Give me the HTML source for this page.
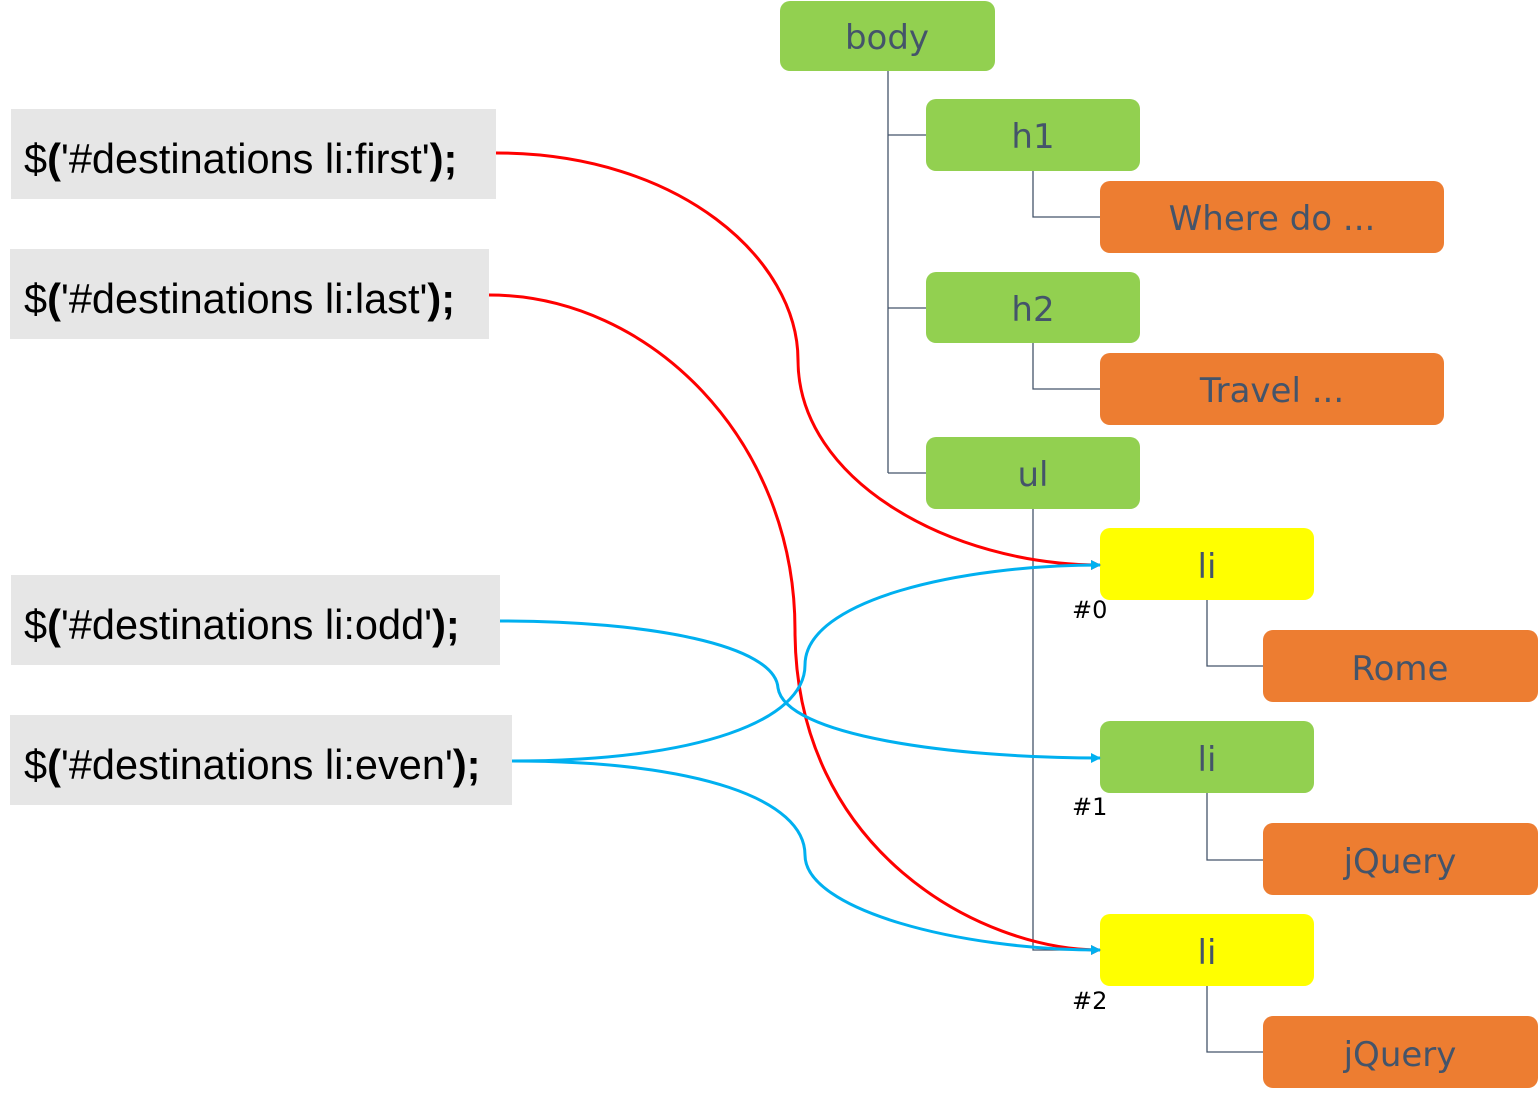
<!DOCTYPE html>
<html><head><meta charset="utf-8"><style>
html,body{margin:0;padding:0;background:#fff;width:1540px;height:1099px;overflow:hidden}
</style></head><body>
<svg width="1540" height="1099" viewBox="0 0 1540 1099" xmlns="http://www.w3.org/2000/svg">
<defs>
<marker id="ar" markerWidth="10" markerHeight="10" refX="9" refY="5" orient="auto" markerUnits="userSpaceOnUse"><path d="M0,0 L10,5 L0,10 z" fill="#ff0000"/></marker>
<marker id="ab" markerWidth="10" markerHeight="10" refX="9" refY="5" orient="auto" markerUnits="userSpaceOnUse"><path d="M0,0 L10,5 L0,10 z" fill="#00b0f0"/></marker>
</defs>
<g stroke="#44546a" stroke-width="1.3" fill="none">
<path d="M888,71 V473 M888,135 H926 M888,308 H926 M888,473 H926"/>
<path d="M1033,171 V217 H1100 M1033,343 V389 H1100 M1033,509 V950 H1100"/>
<path d="M1207,600 V666 H1263 M1207,793 V860 H1263 M1207,986 V1052 H1263"/>
</g>
<g font-family="'DejaVu Sans', sans-serif" font-size="34" fill="#44546a" text-anchor="middle">
<rect x="780" y="1" width="215" height="70" rx="10" fill="#92d050"/><text x="887" y="49">body</text>
<rect x="926" y="99" width="214" height="72" rx="10" fill="#92d050"/><text x="1033" y="148">h1</text>
<rect x="1100" y="181" width="344" height="72" rx="10" fill="#ed7d31"/><text x="1272" y="230">Where do ...</text>
<rect x="926" y="272" width="214" height="71" rx="10" fill="#92d050"/><text x="1033" y="321">h2</text>
<rect x="1100" y="353" width="344" height="72" rx="10" fill="#ed7d31"/><text x="1272" y="402">Travel ...</text>
<rect x="926" y="437" width="214" height="72" rx="10" fill="#92d050"/><text x="1033" y="486">ul</text>
<rect x="1100" y="528" width="214" height="72" rx="10" fill="#ffff00"/><text x="1207" y="578">li</text>
<rect x="1263" y="630" width="275" height="72" rx="10" fill="#ed7d31"/><text x="1400" y="680">Rome</text>
<rect x="1100" y="721" width="214" height="72" rx="10" fill="#92d050"/><text x="1207" y="771">li</text>
<rect x="1263" y="823" width="275" height="72" rx="10" fill="#ed7d31"/><text x="1400" y="873">jQuery</text>
<rect x="1100" y="914" width="214" height="72" rx="10" fill="#ffff00"/><text x="1207" y="964">li</text>
<rect x="1263" y="1016" width="275" height="72" rx="10" fill="#ed7d31"/><text x="1400" y="1066">jQuery</text>
</g>
<g font-family="'DejaVu Sans', sans-serif" font-size="24" fill="#000">
<text x="1072" y="618">#0</text><text x="1072" y="815">#1</text><text x="1072" y="1009">#2</text>
</g>
<g fill="#e6e6e6">
<rect x="11" y="109" width="485" height="90"/>
<rect x="10" y="249" width="479" height="90"/>
<rect x="11" y="575" width="489" height="90"/>
<rect x="10" y="715" width="502" height="90"/>
</g>
<g font-family="'Liberation Sans', Arial, sans-serif" font-size="41.5" fill="#000">
<text x="24" y="173">$<tspan font-weight="bold">(</tspan>'#destinations li:first'<tspan font-weight="bold">);</tspan></text>
<text x="24" y="313">$<tspan font-weight="bold">(</tspan>'#destinations li:last'<tspan font-weight="bold">);</tspan></text>
<text x="24" y="639">$<tspan font-weight="bold">(</tspan>'#destinations li:odd'<tspan font-weight="bold">);</tspan></text>
<text x="24" y="779">$<tspan font-weight="bold">(</tspan>'#destinations li:even'<tspan font-weight="bold">);</tspan></text>
</g>
<g fill="none" stroke-width="3">
<path d="M496,153 C680,153 798,260 798,360 C798,480 950,565 1100,565" stroke="#ff0000" marker-end="url(#ar)"/>
<path d="M489,295 C650,295 795,440 795,630 C795,850 980,950 1100,950" stroke="#ff0000" marker-end="url(#ar)"/>
<path d="M500,621 C650,621 775,645 778,688 C785,735 950,758 1100,758" stroke="#00b0f0" marker-end="url(#ab)"/>
<path d="M512,761 C700,761 805,720 805,665 C805,600 960,565 1100,565" stroke="#00b0f0" marker-end="url(#ab)"/>
<path d="M512,761 C700,761 805,800 805,855 C805,910 960,950 1100,950" stroke="#00b0f0" marker-end="url(#ab)"/>
</g>
</svg>
</body></html>
